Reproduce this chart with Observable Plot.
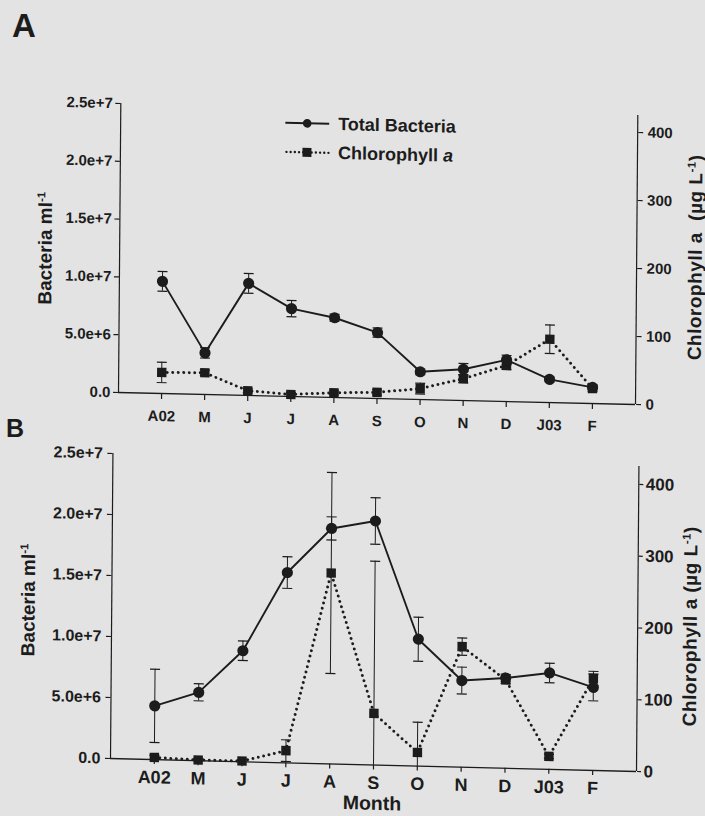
<!DOCTYPE html>
<html><head><meta charset="utf-8">
<script src="https://cdn.jsdelivr.net/npm/d3@7"></script>
<script src="https://cdn.jsdelivr.net/npm/@observablehq/plot@0.6"></script>
<style>
html,body{margin:0;padding:0;background:#e3e3e3;}
body{width:705px;height:816px;position:relative;overflow:hidden;font-family:"Liberation Sans",Arial,sans-serif;color:#1c1c1c;font-weight:bold;}
.wrap{position:absolute;left:0;top:0;width:705px;height:816px;}
.plot{position:absolute;left:0;}
.lbl{position:absolute;left:0;top:0;white-space:nowrap;line-height:1;font-size:19px;}
.rot{transform:translate(-50%,-50%) rotate(-90deg);}
.flat{transform:translate(-50%,-50%);}
.sp{letter-spacing:0.5px;}
.letter{position:absolute;line-height:1;font-weight:bold;}
.leg{position:absolute;white-space:nowrap;line-height:1;font-size:18px;}
sup{font-size:0.6em;vertical-align:0.6em;line-height:0;}
</style></head><body>
<div class="letter" style="left:12px;top:8.7px;font-size:33px;">A</div>
<div class="letter" style="left:6px;top:416px;font-size:25px;">B</div>

<div class="wrap" id="wa" style="transform-origin:118px 392px;transform:matrix(1,0.0232,-0.008,1,0,0);">
  <div class="plot" id="pa" style="top:0;"></div>
  <svg style="position:absolute;left:283px;top:111.6px;" width="46" height="14">
    <line x1="0" x2="44" y1="7" y2="7" stroke="#1c1c1c" stroke-width="2"/>
    <circle cx="22" cy="7" r="4.3" fill="#1c1c1c"/>
  </svg>
  <svg style="position:absolute;left:283px;top:140.6px;" width="46" height="14">
    <line x1="1.5" x2="44" y1="7" y2="7" stroke="#1c1c1c" stroke-width="2.4" stroke-dasharray="0 4.2" stroke-linecap="round"/>
    <rect x="17.5" y="2.5" width="9" height="9" fill="#1c1c1c"/>
  </svg>
  <div class="leg" style="left:336px;top:109.9px;">Total Bacteria</div>
  <div class="leg" style="left:336px;top:138.9px;">Chlorophyll <i>a</i></div>
  <div class="lbl rot" style="left:43.9px;top:249.7px;">Bacteria ml<sup>-1</sup></div>
  <div class="lbl rot sp" style="left:693.8px;top:244.4px;">Chlorophyll a&nbsp;&nbsp;(µg L<sup>-1</sup>)</div>
</div>

<div class="wrap" id="wb" style="transform-origin:110px 758px;transform:matrix(1,0.0247,-0.008,1,0,0);">
  <div class="plot" id="pb" style="top:435px;"></div>
  <div class="lbl rot" style="left:26.8px;top:602px;">Bacteria ml<sup>-1</sup></div>
  <div class="lbl rot sp" style="left:688.8px;top:611.7px;">Chlorophyll a (µg L<sup>-1</sup>)</div>
  <div class="lbl flat" style="left:372.3px;top:796.5px;font-size:19.5px;">Month</div>
</div>

<script>
// ---- data ----
const months = ["A02","M","J","J","A","S","O","N","D","J03","F"];

// Panel A
const bacA    = [9.7e6, 3.6e6, 9.7e6, 7.6e6, 6.9e6, 5.7e6, 2.4e6, 2.7e6, 3.6e6, 2.0e6, 1.4e6];
const bacAErr = [0.85e6, 0.45e6, 0.85e6, 0.7e6, 0.3e6, 0.4e6, 0.25e6, 0.5e6, 0.4e6, 0.2e6, 0.2e6];
const chlA    = [31, 32, 7, 3, 7, 9, 16, 32, 53, 93, 22];
const chlAErr = [15, 4, 3, 3, 3, 4, 8, 6, 6, 21, 4];

// Panel B
const bacB    = [4.4e6, 5.6e6, 9.1e6, 15.6e6, 19.3e6, 20.0e6, 10.4e6, 7.1e6, 7.4e6, 7.9e6, 6.8e6];
const bacBErr = [3.0e6, 0.7e6, 0.8e6, 1.3e6, 0.95e6, 1.9e6, 1.8e6, 1.1e6, 0.3e6, 0.8e6, 1.1e6];
const chlB    = [3, 1, 1, 17, 266, 72, 19, 168, 123, 18, 128];
const chlBErr = [3, 2, 2, 15, 140, 212, 42, 12, 5, 3, 10];

// axes
const leftTicks = [0, 5e6, 1e7, 1.5e7, 2e7, 2.5e7];
const leftTickLabels = ["0.0", "5.0e+6", "1.0e+7", "1.5e+7", "2.0e+7", "2.5e+7"];
const rightTicks = [0, 100, 200, 300, 400];
const bacMax = 2.5e7;
const chlMax = 425;

const ink = "#1c1c1c";

function panel(o) {
  const k = bacMax / chlMax;
  const data = months.map((m, j) => ({
    i: j + 1, bac: o.bac[j], be: o.bacErr[j], chl: o.chl[j] * k, ce: o.chlErr[j] * k
  }));
  const cap = 0.115;
  const chlLo = d => Math.max(0, d.chl - d.ce);
  return Plot.plot({
    width: 705, height: o.height,
    marginTop: o.mt, marginBottom: o.mb, marginLeft: o.ml, marginRight: o.mr,
    x: {domain: [0, 12], axis: null},
    y: {domain: [0, bacMax], axis: null},
    style: {background: "transparent", color: ink, fontFamily: "'Liberation Sans', Arial, sans-serif", fontWeight: "bold", overflow: "visible"},
    marks: [
      Plot.axisY({ticks: leftTicks, tickFormat: d => leftTickLabels[leftTicks.indexOf(d)],
        tickSize: o.lts, tickPadding: o.ltp, fontSize: o.ltf, label: null, strokeWidth: 1.2}),
      Plot.axisY({anchor: "right", ticks: rightTicks.map(v => v * k),
        tickFormat: d => String(Math.round(d / k)),
        tickSize: o.rts, tickPadding: o.rtp, fontSize: o.rtf, label: null, strokeWidth: 1.2}),
      Plot.axisX({ticks: months.map((_, j) => j + 1), tickFormat: d => months[d - 1],
        tickSize: o.xts, tickPadding: o.xtp, fontSize: o.xtf, label: null, strokeWidth: 1.2}),
      Plot.ruleY([0], {stroke: ink, strokeWidth: 1.3}),
      Plot.ruleX([0, 12], {y1: 0, y2: bacMax, stroke: ink, strokeWidth: 1.2}),
      // chlorophyll dotted line
      Plot.line(data, {x: "i", y: "chl", stroke: ink, strokeWidth: 3, strokeDasharray: "0 5.5", strokeLinecap: "round"}),
      // bacteria solid line
      Plot.line(data, {x: "i", y: "bac", stroke: ink, strokeWidth: 1.9}),
      // chlorophyll error bars
      Plot.ruleX(data, {x: "i", y1: chlLo, y2: d => d.chl + d.ce, stroke: ink, strokeWidth: 1}),
      Plot.link(data, {x1: d => d.i - cap, x2: d => d.i + cap, y1: d => d.chl + d.ce, y2: d => d.chl + d.ce, stroke: ink, strokeWidth: 1.2}),
      Plot.link(data.filter(d => d.chl - d.ce > 0), {x1: d => d.i - cap, x2: d => d.i + cap, y1: d => d.chl - d.ce, y2: d => d.chl - d.ce, stroke: ink, strokeWidth: 1.2}),
      // bacteria error bars
      Plot.ruleX(data, {x: "i", y1: d => Math.max(0, d.bac - d.be), y2: d => d.bac + d.be, stroke: ink, strokeWidth: 1}),
      Plot.link(data, {x1: d => d.i - cap, x2: d => d.i + cap, y1: d => d.bac + d.be, y2: d => d.bac + d.be, stroke: ink, strokeWidth: 1.2}),
      Plot.link(data, {x1: d => d.i - cap, x2: d => d.i + cap, y1: d => d.bac - d.be, y2: d => d.bac - d.be, stroke: ink, strokeWidth: 1.2}),
      // markers
      Plot.dot(data, {x: "i", y: "chl", symbol: "square", r: 5.3, fill: ink, stroke: "none"}),
      Plot.dot(data, {x: "i", y: "bac", r: 5.6, fill: ink, stroke: "none"})
    ]
  });
}

document.getElementById("pa").append(panel({
  bac: bacA, bacErr: bacAErr, chl: chlA, chlErr: chlAErr,
  height: 435, mt: 103, mb: 43, ml: 118, mr: 70,
  lts: 5, ltp: 3, ltf: 15, rts: 5, rtp: 5, rtf: 15, xts: 6, xtp: 11, xtf: 15
}));
document.getElementById("pb").append(panel({
  bac: bacB, bacErr: bacBErr, chl: chlB, chlErr: chlBErr,
  height: 381, mt: 18, mb: 58, ml: 110, mr: 69,
  lts: 5, ltp: 5, ltf: 16, rts: 4, rtp: 3, rtf: 17, xts: 5, xtp: 6, xtf: 18
}));
</script>
</body></html>
